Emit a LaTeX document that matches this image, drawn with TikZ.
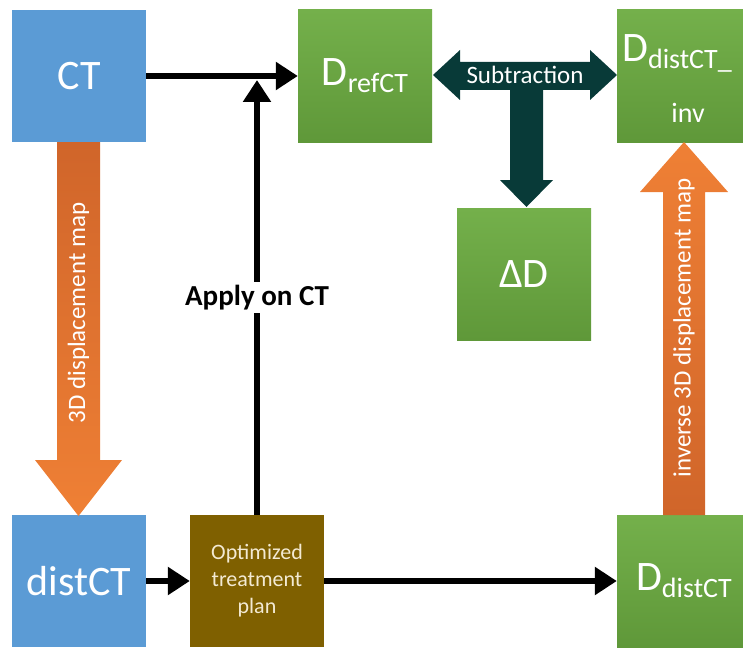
\documentclass[tikz,border=0pt]{standalone}
\usepackage{fontspec}
\setmainfont{Carlito}
\usetikzlibrary{arrows.meta}
\definecolor{ctblue}{HTML}{5B9BD5}
\definecolor{grA}{HTML}{74B04B}
\definecolor{grB}{HTML}{5F9839}
\definecolor{planbrown}{HTML}{7F6000}
\definecolor{plantext}{HTML}{F3EAD3}
\definecolor{orA}{HTML}{EF8035}
\definecolor{orB}{HTML}{D0652A}
\definecolor{subteal}{HTML}{083A38}
\newcommand{\lowsub}[1]{{\fontsize{28}{30}\selectfont\raisebox{-7pt}{#1}}}
\begin{document}
\begin{tikzpicture}[x=1pt,y=-1pt,
  box/.style={minimum width=134pt, minimum height=132pt, inner sep=0pt, text=white,
    font=\fontsize{42}{50}\selectfont},
  bluebox/.style={box, fill=ctblue},
  greenbox/.style={box, top color=grA, bottom color=grB, shading angle=0},
  planbox/.style={box, fill=planbrown, text=plantext, align=center, font=\fontsize{22}{27}\selectfont},
  blk/.style={line width=6pt, -{Triangle[length=22pt,width=27pt]}},
  fatlabel/.style={text=white, font=\fontsize{25}{30}\selectfont, inner sep=0pt}
]
\useasboundingbox (0,0) rectangle (743,650);

% boxes
\node[bluebox] (ct) at (79,76) {CT};
\node[greenbox] (dref) at (365,76) {D\lowsub{refCT}};
\node[greenbox] (dinv) at (684,76) {};
\node[anchor=base west, text=white, inner sep=0pt, font=\fontsize{42}{50}\selectfont] (dinvtop) at (622,62) {D\lowsub{distCT\_}};
\node[anchor=base, text=white, inner sep=0pt, font=\fontsize{28}{30}\selectfont] (dinvbot) at (688,122) {inv};
\node[greenbox] (dd) at (524,274) {ΔD};
\node[bluebox] (distct) at (79,581) {distCT};
\node[planbox] (opt) at (257,581) {Optimized\\treatment\\plan};
\node[greenbox] (ddist) at (684,581) {D\lowsub{distCT}};

% black connectors
\coordinate (applyend) at (257,80);
\draw[blk] (ct) -- (dref);
\draw[blk] (opt.north) -- node[fill=white, inner sep=3pt, font=\bfseries\fontsize{29}{32}\selectfont] (apply) {Apply on CT} (applyend);
\draw[blk] (distct) -- (opt);
\draw[blk] (opt) -- (ddist);

% subtraction T-arrow
\fill[subteal] (433,75) -- (460,50) -- (460,62) -- (590,62) -- (590,50) -- (617,75)
  -- (590,100) -- (590,90) -- (543,90) -- (543,180) -- (553,180) -- (526.5,207)
  -- (500,180) -- (510,180) -- (510,90) -- (460,90) -- (460,100) -- cycle;
\node[fatlabel, text=white] (sub) at (525,75) {Subtraction};

% left orange arrow
\shade[top color=orB, bottom color=orA]
  (57,142) -- (100,142) -- (100,460) -- (122,460) -- (78.5,516) -- (35,460) -- (57,460) -- cycle;
\node[fatlabel, rotate=90] (dispmap) at (78.5,313) {3D displacement map};

% right orange arrow
\shade[top color=orA, bottom color=orB]
  (663,515) -- (705,515) -- (705,192) -- (728,192) -- (684,142) -- (640,192) -- (663,192) -- cycle;
\node[fatlabel, rotate=90] (invmap) at (684,328) {inverse 3D displacement map};
\end{tikzpicture}
\end{document}
